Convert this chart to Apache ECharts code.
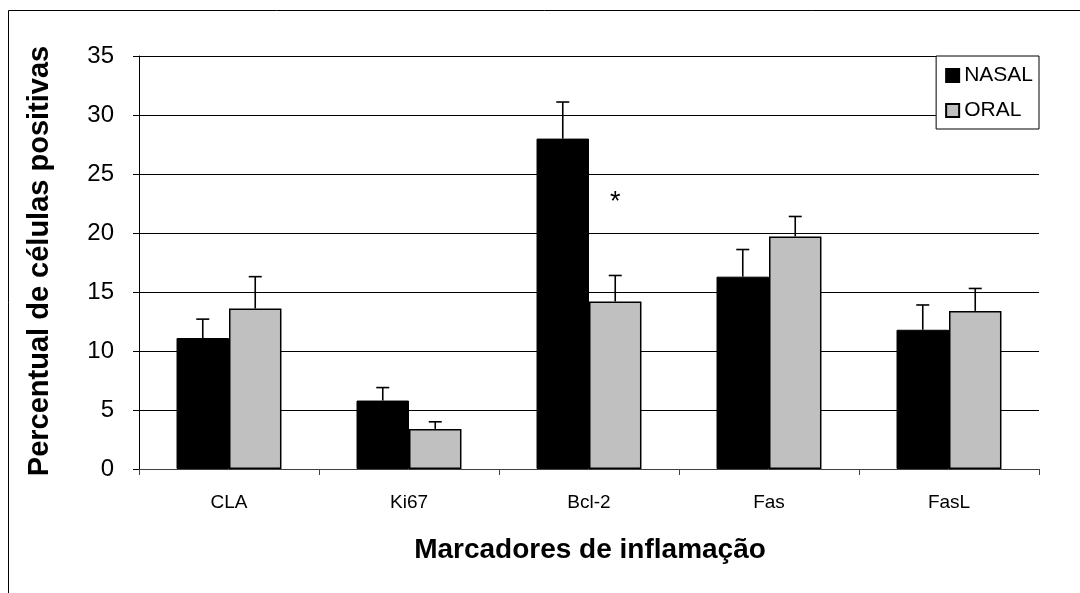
<!DOCTYPE html>
<html>
<head>
<meta charset="utf-8">
<script src="https://cdn.jsdelivr.net/npm/echarts@6/dist/echarts.min.js"></script>
<style>
html,body{margin:0;padding:0;background:#fff;}
#chart{width:1080px;height:593px;}
</style>
</head>
<body>
<div id="chart"></div>
<script>
var categories = ['CLA', 'Ki67', 'Bcl-2', 'Fas', 'FasL'];
var nasalValues = [11.1, 5.8, 28.0, 16.3, 11.8];
var nasalErrTop = [12.7, 6.9, 31.1, 18.6, 13.9];
var oralValues = [13.6, 3.4, 14.2, 19.7, 13.4];
var oralErrTop = [16.3, 4.0, 16.4, 21.4, 15.3];
var oralSignificance = [null, null, 22.9, null, null];

var FONT = 'Liberation Sans, Arial, sans-serif';
var GAP = 0.417;

function errorSeries(name, tops, values, side) {
  var data = categories.map(function (c, i) { return [i, values[i], tops[i]]; });
  return {
    type: 'custom',
    name: name + ' err',
    data: data,
    z: 5,
    silent: true,
    renderItem: function (params, api) {
      var band = api.size([1, 0])[0];
      var barW = band * (1 - GAP) / 2;
      var p0 = api.coord([api.value(0), api.value(1)]);
      var p1 = api.coord([api.value(0), api.value(2)]);
      var x = p0[0] + side * barW / 2;
      var cap = 6.5;
      var st = { stroke: '#000', lineWidth: 1.6 };
      return {
        type: 'group',
        children: [
          { type: 'line', shape: { x1: x, y1: p0[1], x2: x, y2: p1[1] }, style: st },
          { type: 'line', shape: { x1: x - cap, y1: p1[1], x2: x + cap, y2: p1[1] }, style: st }
        ]
      };
    }
  };
}

var chart = echarts.init(document.getElementById('chart'));
chart.setOption({
  backgroundColor: '#fff',
  animation: false,
  textStyle: { fontFamily: FONT },
  grid: { left: 139, right: 41, top: 56, bottom: 124, containLabel: false },
  legend: {
    orient: 'vertical',
    right: 41,
    top: 56,
    padding: [9, 6, 8, 9],
    itemGap: 14,
    itemWidth: 13,
    itemHeight: 13,
    borderColor: '#000',
    borderWidth: 1,
    backgroundColor: '#fff',
    data: [
      { name: 'NASAL', icon: 'rect' },
      { name: 'ORAL', icon: 'rect' }
    ],
    textStyle: { fontSize: 21, color: '#000', fontFamily: FONT, width: 68 }
  },
  xAxis: {
    type: 'category',
    data: categories,
    boundaryGap: true,
    axisLine: { lineStyle: { color: '#404040', width: 1 } },
    axisTick: { show: true, alignWithLabel: false, length: 6, lineStyle: { color: '#404040' } },
    axisLabel: { fontSize: 19, color: '#000', margin: 24, fontFamily: FONT }
  },
  yAxis: {
    type: 'value',
    min: 0,
    max: 35,
    interval: 5,
    axisLine: { show: true, lineStyle: { color: '#000', width: 1 } },
    axisTick: { show: true, length: 6, lineStyle: { color: '#000' } },
    axisLabel: { fontSize: 24, color: '#000', margin: 25, fontFamily: FONT },
    splitLine: { show: true, lineStyle: { color: '#000', width: 1 } }
  },
  series: [
    {
      name: 'NASAL',
      type: 'bar',
      data: nasalValues,
      barGap: '0%',
      barCategoryGap: (GAP * 100) + '%',
      itemStyle: { color: '#000', borderColor: '#000', borderWidth: 1 },
      z: 3
    },
    {
      name: 'ORAL',
      type: 'bar',
      data: oralValues,
      barGap: '0%',
      barCategoryGap: (GAP * 100) + '%',
      itemStyle: { color: '#C0C0C0', borderColor: '#000', borderWidth: 1.5 },
      z: 3
    },
    errorSeries('NASAL', nasalErrTop, nasalValues, -1),
    errorSeries('ORAL', oralErrTop, oralValues, 1),
    {
      type: 'custom',
      name: 'sig',
      data: oralSignificance.map(function (v, i) { return v == null ? null : [i, v]; }).filter(function (d) { return d; }),
      z: 6,
      silent: true,
      renderItem: function (params, api) {
        var band = api.size([1, 0])[0];
        var barW = band * (1 - GAP) / 2;
        var p = api.coord([api.value(0), api.value(1)]);
        return {
          type: 'text',
          style: {
            x: p[0] + barW / 2, y: p[1] + 4, text: '*',
            fill: '#000', fontSize: 27, fontFamily: FONT,
            align: 'center', verticalAlign: 'middle'
          }
        };
      }
    }
  ],
  graphic: [
    {
      type: 'rect',
      shape: { x: 8.5, y: 10.5, width: 1200, height: 700 },
      style: { fill: 'none', stroke: '#000', lineWidth: 1 },
      z: -10, silent: true
    },
    {
      type: 'text',
      x: 40,
      y: 261,
      rotation: Math.PI / 2,
      style: {
        text: 'Percentual de células positivas',
        fontSize: 29, fontWeight: 'bold', fill: '#000', fontFamily: FONT,
        align: 'center', verticalAlign: 'middle'
      },
      silent: true
    },
    {
      type: 'text',
      x: 590,
      y: 550,
      style: {
        text: 'Marcadores de inflamação',
        fontSize: 28, fontWeight: 'bold', fill: '#000', fontFamily: FONT,
        align: 'center', verticalAlign: 'middle'
      },
      silent: true
    }
  ]
});
</script>
</body>
</html>
